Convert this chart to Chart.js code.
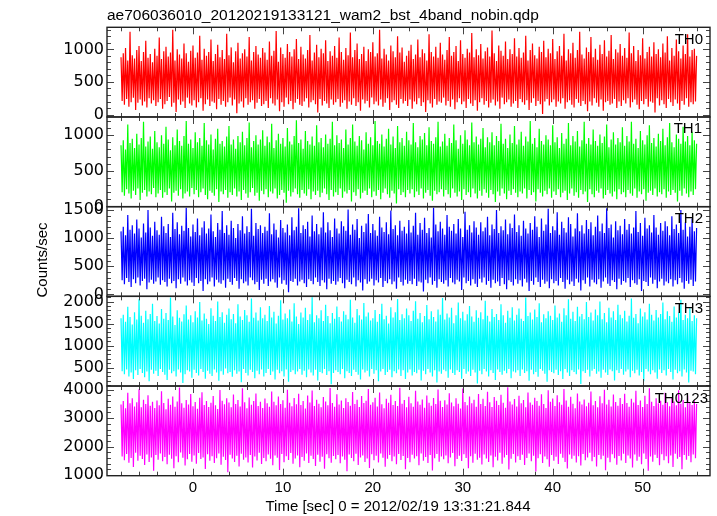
<!DOCTYPE html>
<html>
<head>
<meta charset="utf-8">
<script src="https://cdn.jsdelivr.net/npm/chart.js@4.4.1/dist/chart.umd.min.js"></script>
<style>
  body { margin: 0; background: #fff; }
  #wrap { width: 717px; height: 516px; }
</style>
</head>
<body>
<div id="wrap"><canvas id="lc" width="717" height="516"></canvas></div>
<script>
// time bins (sec from 2012/02/19 13:31:21.844)
const tStart = -8
const tStep = 0.125

const panelNames = ['TH0', 'TH1', 'TH2', 'TH3', 'TH0123']

// counts/sec (upper / lower envelope in turn)
const th0 = [
  880, 210, 940, 150, 1020, 240, 830, 120, 1270, 190, 910, 260, 860, 70, 990, 180, 1050, 230, 820, 140, 960, 200, 1130, 110, 870, 250, 930, 170, 800, 220, 1010, 130,
  900, 190, 1180, 240, 850, 90, 970, 160, 1040, 210, 890, 270, 950, 120, 1300, 180, 830, 40, 1000, 230, 920, 150, 860, 200, 1090, 100, 940, 260, 810, 170, 980, 140,
  1060, 220, 870, 110, 950, 190, 1210, 250, 840, 60, 1010, 160, 900, 230, 960, 130, 1150, 200, 820, 180, 930, 80, 1070, 240, 880, 150, 990, 210, 850, 120, 1240, 190,
  910, 260, 1030, 140, 800, 230, 970, 20, 1100, 170, 860, 200, 940, 110, 1000, 250, 890, 150, 1190, 190, 830, 220, 960, 90, 1050, 180, 920, 240, 870, 130, 1020, 160,
  950, 210, 840, 100, 1120, 250, 900, 170, 980, 140, 1280, 230, 810, 50, 1030, 190, 930, 120, 870, 260, 1080, 160, 960, 210, 890, 80, 1000, 180, 1160, 240, 850, 150,
  1040, 130, 920, 200, 860, 250, 990, 110, 1220, 190, 830, 220, 950, 160, 1070, 30, 880, 240, 1010, 140, 940, 210, 1140, 170, 820, 100, 970, 230, 900, 150, 1050, 190,
  870, 240, 1180, 120, 960, 180, 840, 220, 1020, 90, 910, 200, 1260, 150, 880, 250, 990, 130, 1090, 190, 850, 60, 930, 230, 1040, 170, 820, 210, 1000, 110, 960, 260,
  1110, 160, 890, 200, 940, 140, 1300, 230, 860, 120, 1010, 180, 920, 250, 830, 70, 1060, 190, 970, 220, 880, 150, 1200, 100, 950, 240, 1030, 170, 810, 210, 900, 130,
  980, 230, 1070, 90, 850, 200, 920, 160, 1150, 250, 880, 130, 1000, 190, 940, 40, 830, 220, 1230, 170, 960, 110, 890, 240, 1040, 150, 870, 200, 1100, 180, 920, 260,
  840, 140, 990, 210, 1190, 120, 900, 230, 960, 80, 1050, 190, 820, 250, 1140, 160, 930, 200, 870, 100, 1010, 240, 950, 170, 1250, 130, 880, 220, 1000, 60, 910, 190,
  1080, 250, 860, 150, 970, 210, 1030, 110, 890, 180, 1290, 230, 940, 140, 820, 200, 1060, 90, 980, 260, 900, 160, 1120, 190, 850, 230, 1000, 120, 930, 170, 1170, 210,
  890, 100, 1020, 240, 870, 190, 950, 150, 1210, 220, 830, 70, 990, 180, 1090, 250, 910, 130, 860, 210, 1040, 160, 960, 10, 1130, 200, 880, 240, 1010, 140, 940, 190,
  1160, 230, 850, 120, 970, 200, 1050, 170, 900, 250, 1240, 90, 830, 190, 1000, 220, 940, 150, 1100, 110, 870, 240, 990, 180, 1270, 130, 920, 210, 860, 160, 1030, 50,
  960, 200, 1190, 140, 880, 250, 1010, 180, 840, 120, 1070, 230, 930, 60, 1140, 190, 890, 210, 980, 150, 1220, 170, 850, 240, 1000, 100, 950, 200, 1080, 130, 900, 220,
  1020, 170, 870, 250, 1260, 110, 940, 190, 1050, 230, 820, 150, 990, 80, 910, 210, 1170, 160, 860, 240, 960, 120, 1040, 200, 890, 180, 1110, 30, 930, 250, 1000, 140,
  880, 220, 1090, 160, 950, 100, 1200, 240, 830, 190, 1020, 130, 900, 230, 1150, 170, 970, 70, 860, 210, 1060, 150, 930, 250, 1230, 120, 890, 190, 990, 160, 1010, 200,
  900
]
const th1 = [
  860, 200, 930, 150, 800, 240, 1150, 180, 890, 110, 950, 220, 820, 160, 1020, 250, 870, 90, 960, 190, 1190, 230, 840, 140, 910, 210, 980, 170, 810, 260, 1060, 130,
  900, 180, 830, 230, 1000, 120, 880, 200, 1120, 160, 940, 250, 790, 70, 970, 190, 860, 220, 1080, 150, 920, 240, 850, 110, 990, 180, 1200, 210, 880, 140, 940, 260,
  820, 170, 1040, 230, 900, 130, 960, 200, 850, 250, 1170, 160, 930, 100, 870, 220, 1010, 190, 800, 150, 950, 240, 1090, 60, 880, 210, 920, 170, 840, 230, 980, 120,
  1130, 200, 870, 160, 940, 250, 810, 140, 990, 210, 900, 90, 1050, 230, 860, 180, 960, 120, 1180, 200, 830, 260, 920, 150, 1000, 190, 870, 80, 940, 220, 1070, 170,
  850, 240, 980, 130, 900, 210, 1160, 180, 820, 250, 930, 110, 1020, 160, 880, 230, 960, 190, 840, 50, 1100, 220, 910, 140, 870, 200, 990, 250, 1210, 170, 890, 120,
  940, 230, 810, 180, 1060, 150, 920, 240, 870, 100, 980, 210, 850, 160, 1140, 220, 900, 130, 960, 190, 830, 250, 1010, 170, 880, 90, 950, 230, 1190, 140, 860, 200,
  1000, 160, 890, 250, 940, 120, 820, 210, 1080, 180, 870, 230, 960, 70, 1150, 200, 910, 150, 850, 240, 990, 110, 930, 190, 800, 220, 1040, 160, 880, 250, 970, 130,
  860, 210, 1200, 150, 920, 230, 880, 100, 1010, 190, 840, 250, 950, 170, 1090, 120, 870, 220, 980, 180, 820, 40, 1130, 240, 900, 160, 960, 200, 850, 130, 1050, 230,
  930, 180, 870, 240, 1170, 130, 900, 210, 830, 160, 990, 250, 940, 110, 1030, 190, 860, 230, 1110, 150, 920, 80, 880, 220, 970, 170, 1190, 200, 840, 240, 910, 140,
  1020, 230, 850, 170, 960, 120, 890, 250, 1150, 190, 930, 140, 810, 210, 1000, 90, 880, 240, 1070, 160, 940, 200, 860, 130, 1180, 250, 900, 180, 980, 110, 870, 220,
  950, 150, 1100, 240, 830, 190, 970, 120, 900, 230, 1040, 170, 860, 60, 990, 210, 920, 150, 1160, 250, 880, 180, 950, 100, 820, 220, 1010, 160, 890, 240, 1130, 190,
  870, 130, 940, 210, 1050, 180, 850, 250, 980, 110, 910, 230, 1200, 160, 880, 200, 960, 70, 830, 240, 1090, 190, 920, 140, 870, 220, 1000, 170, 940, 250, 860, 120,
  1140, 210, 900, 160, 970, 240, 820, 130, 1030, 190, 880, 220, 950, 90, 1170, 180, 860, 250, 990, 150, 910, 200, 1060, 120, 840, 230, 930, 170, 1190, 210, 880, 60,
  960, 240, 870, 170, 1080, 130, 920, 220, 850, 190, 1010, 250, 890, 110, 980, 160, 1150, 230, 830, 180, 940, 140, 1040, 210, 870, 100, 960, 240, 900, 170, 1110, 200,
  850, 130, 990, 230, 910, 180, 1190, 150, 880, 250, 950, 120, 820, 210, 1060, 170, 930, 240, 870, 80, 1000, 190, 1140, 220, 890, 160, 960, 250, 840, 140, 1020, 200,
  920, 170, 1090, 240, 860, 120, 970, 210, 1170, 160, 900, 230, 830, 190, 1010, 70, 950, 220, 880, 150, 1120, 250, 910, 180, 990, 130, 860, 210, 1050, 160, 930, 240,
  880
]
const th2 = [
  1120, 250, 1200, 180, 1050, 290, 1410, 220, 1150, 130, 1230, 270, 1080, 200, 1330, 300, 1170, 160, 1010, 240, 1260, 280, 1100, 90, 1500, 210, 1190, 260, 1040, 190, 1290, 230,
  1140, 300, 1060, 170, 1380, 250, 1210, 220, 1090, 140, 1250, 280, 1020, 200, 1450, 240, 1160, 110, 1280, 270, 1070, 190, 1220, 300, 1130, 230, 1540, 160, 1180, 250, 1030, 210,
  1240, 150, 1110, 290, 1350, 200, 1050, 240, 1190, 60, 1300, 270, 1080, 180, 1170, 230, 1420, 300, 1120, 140, 1020, 260, 1270, 210, 1150, 190, 1480, 250, 1090, 120, 1230, 280,
  1060, 220, 1310, 170, 1180, 290, 1000, 240, 1250, 100, 1140, 270, 1390, 200, 1080, 230, 1210, 160, 1110, 300, 1520, 250, 1040, 180, 1270, 220, 1160, 80, 1230, 260, 1090, 190,
  1200, 280, 1130, 150, 1440, 230, 1070, 270, 1260, 210, 1150, 120, 1010, 300, 1320, 190, 1180, 250, 1100, 170, 1240, 40, 1050, 240, 1370, 220, 1140, 280, 1200, 160, 1530, 230,
  1090, 260, 1230, 200, 1160, 130, 1290, 270, 1030, 240, 1400, 180, 1120, 300, 1250, 220, 1070, 150, 1190, 250, 1460, 210, 1100, 90, 1280, 280, 1140, 190, 1020, 240, 1350, 170,
  1170, 230, 1080, 290, 1300, 200, 1210, 110, 1130, 260, 1510, 220, 1060, 180, 1240, 300, 1150, 140, 1340, 250, 1000, 210, 1220, 70, 1110, 270, 1260, 190, 1430, 230, 1090, 280,
  1250, 160, 1140, 250, 1040, 210, 1380, 290, 1190, 130, 1110, 240, 1280, 200, 1070, 270, 1490, 180, 1160, 230, 1230, 100, 1050, 300, 1310, 220, 1130, 160, 1200, 260, 1080, 190,
  1320, 240, 1100, 180, 1220, 280, 1450, 150, 1060, 230, 1270, 210, 1150, 50, 1360, 260, 1090, 200, 1180, 300, 1010, 170, 1540, 240, 1240, 120, 1120, 270, 1290, 220, 1170, 190,
  1060, 250, 1410, 140, 1200, 290, 1130, 210, 1250, 180, 1080, 260, 1340, 230, 1170, 80, 1020, 300, 1470, 200, 1150, 240, 1230, 160, 1100, 270, 1300, 190, 1190, 130, 1060, 280,
  1280, 210, 1120, 300, 1190, 170, 1380, 240, 1050, 120, 1240, 260, 1160, 200, 1500, 230, 1090, 150, 1210, 290, 1140, 180, 1330, 90, 1070, 250, 1260, 220, 1180, 160, 1420, 270,
  1110, 190, 1230, 250, 1040, 140, 1310, 280, 1170, 210, 1080, 60, 1270, 240, 1150, 170, 1390, 300, 1200, 220, 1020, 130, 1350, 260, 1130, 190, 1240, 230, 1520, 110, 1090, 270,
  1210, 200, 1140, 240, 1460, 160, 1060, 290, 1290, 220, 1180, 100, 1100, 260, 1370, 180, 1250, 230, 1030, 150, 1170, 280, 1440, 210, 1120, 70, 1230, 250, 1080, 190, 1320, 300,
  1160, 140, 1280, 260, 1050, 210, 1200, 180, 1400, 270, 1120, 120, 1260, 230, 1090, 300, 1530, 190, 1180, 150, 1240, 250, 1010, 220, 1300, 90, 1140, 280, 1220, 170, 1070, 240,
  1340, 210, 1150, 290, 1250, 130, 1080, 250, 1190, 200, 1480, 170, 1110, 270, 1270, 60, 1040, 240, 1360, 220, 1170, 150, 1230, 300, 1100, 190, 1410, 260, 1190, 110, 1060, 230,
  1270, 280, 1130, 160, 1300, 230, 1210, 200, 1050, 270, 1390, 140, 1160, 250, 1240, 180, 1090, 290, 1500, 210, 1150, 100, 1280, 240, 1030, 190, 1200, 260, 1350, 150, 1120, 230,
  1180
]
const th3 = [
  1620, 420, 1700, 350, 1540, 460, 1880, 300, 1650, 390, 1480, 240, 1760, 440, 1590, 330, 2050, 470, 1680, 380, 1520, 280, 1790, 410, 1600, 190, 1720, 450, 1950, 360, 1560, 430,
  1670, 310, 1500, 470, 1830, 400, 1610, 340, 1740, 220, 1580, 450, 2090, 370, 1660, 420, 1470, 300, 1800, 460, 1630, 390, 1550, 150, 1710, 350, 1910, 440, 1590, 410, 1690, 270,
  1530, 450, 1780, 380, 1640, 320, 1990, 470, 1570, 400, 1730, 250, 1610, 430, 1490, 360, 1850, 310, 1680, 460, 1560, 390, 2000, 200, 1650, 420, 1760, 340, 1520, 480, 1700, 370,
  1840, 400, 1600, 290, 1720, 440, 1510, 360, 1940, 410, 1660, 170, 1580, 470, 1810, 380, 1690, 320, 1540, 450, 2070, 400, 1630, 260, 1750, 430, 1570, 350, 1870, 460, 1620, 300,
  1700, 380, 1560, 470, 1900, 330, 1640, 410, 1770, 230, 1500, 450, 1680, 370, 2030, 420, 1590, 300, 1730, 460, 1620, 180, 1820, 400, 1550, 440, 1960, 350, 1660, 410, 1490, 470,
  1750, 340, 1640, 430, 1860, 280, 1580, 460, 1710, 390, 2100, 320, 1530, 450, 1690, 210, 1620, 400, 1800, 370, 1560, 470, 1930, 330, 1670, 420, 1510, 120, 1740, 380, 1610, 440,
  1890, 400, 1650, 350, 1550, 470, 1780, 260, 1700, 420, 1600, 380, 2040, 310, 1640, 450, 1520, 400, 1830, 340, 1690, 230, 1590, 460, 1970, 390, 1660, 430, 1750, 300, 1570, 470,
  1620, 360, 1810, 440, 1540, 190, 1720, 410, 1950, 470, 1600, 330, 1680, 400, 1500, 450, 1870, 280, 1640, 420, 1760, 370, 2060, 460, 1580, 310, 1710, 440, 1620, 240, 1840, 390,
  1690, 460, 1560, 320, 1790, 400, 2010, 370, 1610, 450, 1740, 210, 1530, 430, 1670, 350, 1920, 470, 1600, 390, 1780, 300, 1650, 440, 1550, 160, 1820, 410, 1700, 360, 2080, 450,
  1590, 420, 1730, 270, 1640, 460, 1860, 380, 1510, 330, 1690, 440, 1980, 400, 1620, 250, 1770, 470, 1570, 360, 1710, 410, 1900, 310, 1660, 450, 1540, 390, 1800, 140, 1630, 430,
  1760, 350, 1600, 470, 2020, 410, 1680, 300, 1550, 440, 1830, 380, 1650, 220, 1720, 460, 1580, 400, 1940, 340, 1690, 430, 1520, 370, 1790, 470, 1630, 260, 1870, 410, 1570, 390,
  1700, 440, 1840, 310, 1610, 460, 1560, 380, 2090, 420, 1670, 200, 1750, 450, 1590, 350, 1820, 400, 1650, 290, 1960, 470, 1530, 430, 1710, 360, 1620, 180, 1780, 440, 1680, 400,
  1580, 370, 1910, 450, 1640, 330, 1730, 420, 1540, 240, 1850, 470, 1690, 390, 2050, 310, 1610, 440, 1770, 400, 1560, 350, 1880, 460, 1660, 130, 1720, 420, 1600, 380, 1990, 450,
  1650, 300, 1750, 430, 1570, 470, 1820, 360, 1690, 410, 2000, 270, 1600, 450, 1740, 390, 1530, 330, 1860, 460, 1640, 420, 1780, 210, 1580, 440, 1930, 380, 1700, 470, 1620, 340,
  1790, 410, 1550, 460, 1680, 280, 2070, 430, 1630, 370, 1720, 450, 1510, 320, 1840, 400, 1660, 190, 1760, 470, 1590, 410, 1950, 350, 1700, 440, 1570, 390, 1810, 250, 1640, 460,
  1720, 380, 1980, 440, 1600, 320, 1780, 470, 1670, 400, 1540, 230, 1890, 450, 1640, 370, 1750, 420, 2040, 300, 1580, 460, 1700, 390, 1620, 160, 1850, 430, 1560, 410, 1690, 350,
  1620
]
const th0123 = [
  3480, 1650, 3600, 1520, 3350, 1740, 3890, 1430, 3520, 1600, 3700, 1280, 3410, 1780, 3560, 1500, 4020, 1680, 3380, 1560, 3650, 1350, 3500, 1720, 3810, 1460, 3440, 1620, 3580, 1150, 3360, 1700,
  3620, 1540, 3450, 1760, 3950, 1480, 3530, 1630, 3310, 1380, 3680, 1710, 3470, 1570, 3760, 1240, 3400, 1660, 3590, 1450, 4080, 1790, 3520, 1610, 3370, 1330, 3640, 1550, 3480, 1740, 3850, 1470,
  3420, 1690, 3570, 1400, 3330, 1770, 3720, 1560, 3910, 1620, 3460, 1210, 3600, 1730, 3390, 1500, 3540, 1660, 3780, 1420, 3450, 1590, 3320, 1760, 3990, 1360, 3610, 1640, 3490, 1530, 3700, 1100,
  3550, 1710, 3380, 1580, 3830, 1460, 3500, 1680, 3640, 1300, 3410, 1750, 4050, 1540, 3560, 1620, 3350, 1440, 3730, 1700, 3470, 1260, 3600, 1650, 3870, 1510, 3430, 1780, 3580, 1390, 3360, 1600,
  3690, 1480, 3520, 1720, 3400, 1570, 3940, 1340, 3580, 1690, 3450, 1610, 3760, 1180, 3500, 1740, 3630, 1450, 3370, 1660, 4000, 1530, 3540, 1770, 3420, 1400, 3710, 1580, 3490, 1690, 3860, 1270,
  3460, 1630, 3600, 1500, 3340, 1760, 3800, 1420, 3550, 1680, 3970, 1560, 3430, 1320, 3650, 1710, 3510, 1470, 3380, 1640, 3740, 1220, 3590, 1730, 3450, 1590, 4060, 1430, 3530, 1670, 3400, 1550,
  3840, 1700, 3480, 1410, 3620, 1650, 3360, 1540, 3700, 1130, 3570, 1720, 3440, 1600, 3920, 1480, 3500, 1750, 3650, 1350, 3390, 1620, 3780, 1690, 3530, 1460, 3610, 1580, 4030, 1250, 3470, 1730,
  3560, 1520, 3720, 1680, 3410, 1440, 3900, 1760, 3490, 1610, 3350, 1290, 3680, 1570, 3540, 1700, 3820, 1480, 3460, 1650, 3600, 1380, 3430, 1740, 4070, 1530, 3510, 1670, 3640, 1200, 3380, 1600,
  3750, 1450, 3520, 1710, 3400, 1580, 3960, 1660, 3590, 1340, 3470, 1760, 3660, 1500, 3370, 1630, 3800, 1420, 3540, 1700, 3440, 1160, 3710, 1590, 3500, 1740, 4010, 1470, 3610, 1650, 3390, 1550,
  3630, 1690, 3480, 1410, 3880, 1620, 3550, 1770, 3420, 1310, 3700, 1560, 3510, 1680, 3340, 1490, 4040, 1730, 3570, 1600, 3450, 1240, 3760, 1660, 3520, 1430, 3650, 1750, 3400, 1540, 3850, 1610,
  3500, 1370, 3680, 1720, 3430, 1580, 3930, 1460, 3560, 1690, 3390, 1270, 3740, 1640, 3610, 1510, 3460, 1780, 3820, 1400, 3540, 1620, 3370, 1700, 4090, 1190, 3590, 1570, 3480, 1740, 3670, 1440,
  3410, 1660, 3790, 1530, 3520, 1710, 3640, 1350, 3380, 1600, 3900, 1760, 3550, 1480, 3470, 1680, 3720, 1120, 3600, 1590, 3440, 1730, 3840, 1420, 3500, 1650, 3360, 1550, 3980, 1290, 3580, 1700,
  3690, 1500, 3430, 1640, 3810, 1390, 3560, 1750, 3470, 1610, 4030, 1460, 3620, 1230, 3400, 1720, 3750, 1570, 3510, 1680, 3350, 1440, 3870, 1660, 3590, 1330, 3480, 1740, 3660, 1520, 3420, 1620,
  3540, 1780, 3940, 1480, 3450, 1630, 3600, 1300, 3380, 1700, 3770, 1550, 3520, 1680, 4000, 1170, 3480, 1610, 3650, 1450, 3410, 1730, 3830, 1590, 3570, 1360, 3440, 1670, 3710, 1510, 3500, 1750,
  3860, 1420, 3530, 1690, 3400, 1580, 3680, 1260, 3550, 1720, 3960, 1500, 3460, 1640, 3620, 1380, 3390, 1760, 3790, 1560, 3500, 1150, 4050, 1650, 3580, 1470, 3430, 1710, 3700, 1600, 3520, 1340,
  3610, 1730, 3470, 1520, 3890, 1660, 3560, 1410, 3420, 1690, 3730, 1280, 3590, 1750, 3450, 1570, 3980, 1630, 3510, 1200, 3640, 1700, 3380, 1540, 3800, 1670, 3530, 1450, 3460, 1720, 3620, 1590,
  3500
]

// axis ranges of each panel
const yMin = [-37, -4, -34, 82, 975]
const yMax = [1338, 1256, 1559, 2119, 4131]
const yMajor = [500, 500, 500, 500, 1000]
const yMinor = [100, 100, 100, 100, 200]
const xMin = -9.56
const xMax = 57.49

const series = [th0, th1, th2, th3, th0123]
const cores = ['#ff0000', '#00ff00', '#0000ff', '#00ffff', '#ff00ff']
const labelInset = [7, 8, 7, 7, 2]

const pts = (arr) => arr.map((v, i) => ({x: tStart + i * tStep, y: v}))

const datasets = series.map((s, i) => ({
  label: panelNames[i],
  data: pts(s),
  yAxisID: 'y' + i,
  borderColor: cores[i],
  borderWidth: 1.2,
  pointRadius: 0,
  tension: 0,
  fill: false
}))

const fonte = '"Liberation Sans", Arial, sans-serif'

const scales = {
  x: {
    type: 'linear',
    position: 'bottom',
    min: xMin,
    max: xMax,
    grid: {display: false, drawTicks: false},
    border: {display: false},
    ticks: {
      stepSize: 10,
      includeBounds: false,
      padding: 3,
      color: '#000',
      font: {family: fonte, size: 15},
      maxRotation: 0
    },
    afterFit: (s) => { s.height = 40.3 }
  }
}
// bottom panel first, top panel last (left boxes are stacked in reverse)
for (let i = 4; i >= 0; i--) {
  scales['y' + i] = {
    type: 'linear',
    position: 'left',
    stack: 'painel',
    stackWeight: 1,
    min: yMin[i],
    max: yMax[i],
    grid: {display: false, drawTicks: false},
    border: {display: false},
    afterBuildTicks: (s) => {
      const passo = yMajor[i]
      const lista = []
      for (let v = Math.ceil(yMin[i] / passo) * passo; v <= yMax[i]; v += passo) lista.push({value: v})
      s.ticks = lista
    },
    ticks: {
      autoSkip: false,
      padding: 3,
      color: '#000',
      font: {family: '"DejaVu Sans", sans-serif', size: 16},
      callback: (v) => String(v)
    },
    afterFit: (s) => { s.width = 107 }
  }
}

const molduras = {
  id: 'molduras',
  afterDatasetsDraw(chart) {
    const ctx = chart.ctx
    const xs = chart.scales.x
    const left = chart.chartArea.left
    const right = chart.chartArea.right
    ctx.save()
    for (let p = 0; p < 5; p++) {
      const ys = chart.scales['y' + p]
      const top = ys.top
      const bottom = ys.bottom
      ctx.strokeStyle = '#444'
      ctx.lineWidth = 1
      ctx.beginPath()
      for (let t = -8; t <= 56; t += 2) {
        const px = Math.round(xs.getPixelForValue(t)) + 0.5
        const len = t % 10 === 0 ? 7 : 4
        ctx.moveTo(px, bottom); ctx.lineTo(px, bottom - len)
        ctx.moveTo(px, top); ctx.lineTo(px, top + len)
      }
      const first = Math.ceil(yMin[p] / yMinor[p]) * yMinor[p]
      for (let v = first; v <= yMax[p]; v += yMinor[p]) {
        const py = Math.round(ys.getPixelForValue(v)) + 0.5
        const len = v % yMajor[p] === 0 ? 7 : 4
        ctx.moveTo(left, py); ctx.lineTo(left + len, py)
        ctx.moveTo(right, py); ctx.lineTo(right - len, py)
      }
      ctx.stroke()
      ctx.strokeStyle = '#222'
      ctx.lineWidth = 1.4
      ctx.strokeRect(left, top, right - left, bottom - top)
      ctx.fillStyle = '#000'
      ctx.font = '15px ' + fonte
      ctx.textAlign = 'right'
      ctx.textBaseline = 'alphabetic'
      ctx.fillText(panelNames[p], right - labelInset[p], top + 16.5)
    }
    ctx.restore()
  },
  afterDraw(chart) {
    const ctx = chart.ctx
    const a = chart.chartArea
    ctx.save()
    ctx.fillStyle = '#000'
    ctx.textBaseline = 'alphabetic'
    ctx.font = '15.5px ' + fonte
    ctx.textAlign = 'left'
    ctx.fillText('ae706036010_20120219133121_wam2_bst_4band_nobin.qdp', a.left, 20)
    ctx.font = '15px ' + fonte
    ctx.textAlign = 'center'
    ctx.fillText('Time [sec] 0 = 2012/02/19 13:31:21.844', 398, 511)
    ctx.translate(46.5, 260)
    ctx.rotate(-Math.PI / 2)
    ctx.fillText('Counts/sec', 0, 0)
    ctx.restore()
  }
}

new Chart(document.getElementById('lc'), {
  type: 'line',
  data: {datasets: datasets},
  options: {
    responsive: false,
    animation: false,
    events: [],
    layout: {padding: {left: 0, right: 7, top: 27.3, bottom: 0}},
    plugins: {legend: {display: false}, tooltip: {enabled: false}},
    scales: scales
  },
  plugins: [molduras]
})
</script>
</body>
</html>
